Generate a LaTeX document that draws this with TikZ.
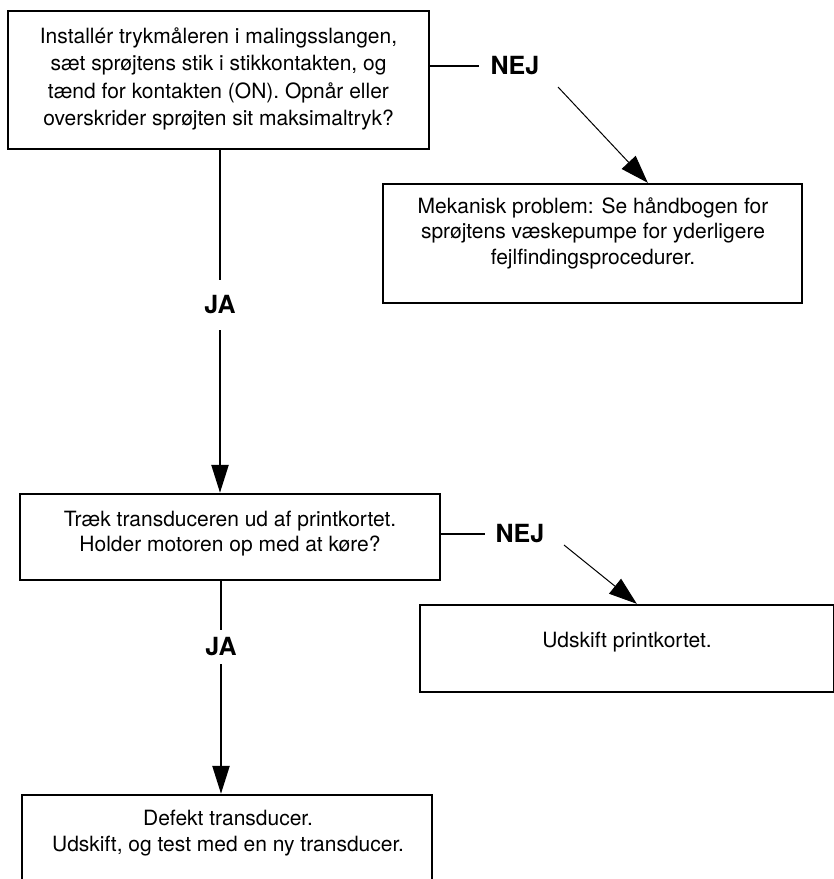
\documentclass[tikz,border=0pt]{standalone}
\usepackage{fontspec}
\setmainfont{TeX Gyre Heros}
\usetikzlibrary{arrows.meta}
\tikzset{
  box/.style={draw, line width=2.4pt, inner sep=0pt, rectangle},
  txt/.style={align=center, inner sep=0pt, font=\fontsize{21}{25.5}\selectfont},
  lbl/.style={inner xsep=10pt, font=\fontsize{25}{30}\selectfont\bfseries},
  conn/.style={line width=2.4pt},
  bigarrow/.style={line width=2.4pt, -{Triangle[length=28pt,width=17pt]}},
  thinarrow/.style={line width=1pt, -{Triangle[length=28pt,width=19pt]}}
}
\begin{document}
\begin{tikzpicture}[x=1pt,y=-1pt]
\useasboundingbox (0,0) rectangle (834,879);
% boxes
\node[box, minimum width=421pt, minimum height=138pt] (b1) at (218.5,80) {};
\node[box, minimum width=419pt, minimum height=119pt] (b2) at (592.5,243.5) {};
\node[box, minimum width=420pt, minimum height=86pt] (b3) at (230,537) {};
\node[box, minimum width=414pt, minimum height=87pt] (b4) at (627,648.5) {};
\node[box, minimum width=410pt, minimum height=110pt] (b5) at (227,850) {};
% texts
\node[txt, font=\fontsize{21}{27.5}\selectfont] (t1) at (218.5,79) {Installér trykmåleren i malingsslangen,\\sæt sprøjtens stik i stikkontakten, og\\tænd for kontakten (ON). Opnår eller\\overskrider sprøjten sit maksimaltryk?};
\node[txt] (t2) at (593,233) {Mekanisk problem: Se håndbogen for\\sprøjtens væskepumpe for yderligere\\fejlfindingsprocedurer.};
\node[txt] (t3) at (230,533.5) {Træk transduceren ud af printkortet.\\Holder motoren op med at køre?};
\node[txt] (t4) at (627,642) {Udskift printkortet.};
\node[txt] (t5) at (228,833) {Defekt transducer.\\Udskift, og test med en ny transducer.};
% labels
\node[lbl, inner ysep=16pt] (ja1) at (220,305) {JA};
\node[lbl, inner ysep=8pt] (ja2) at (221,647) {JA};
\node[lbl, inner xsep=11pt] (nej1) at (515,66) {NEJ};
\node[lbl, inner xsep=10pt] (nej2) at (520,534) {NEJ};
\coordinate (n1s) at (558,87);
\coordinate (n2s) at (564,545);
% connectors
\draw[conn] (ja1 |- b1.south) -- (ja1.north);
\draw[bigarrow] (ja1.south) -- (ja1 |- b3.north);
\draw[conn] (b1.east |- nej1) -- (nej1.west);
\draw[thinarrow] (n1s) -- ([xshift=266pt]b2.north west);
\draw[conn] (ja2 |- b3.south) -- (ja2.north);
\draw[bigarrow] (ja2.south) -- (ja2 |- b5.north);
\draw[conn] (b3.east |- nej2) -- (nej2.west);
\draw[thinarrow] (n2s) -- ([xshift=218pt]b4.north west);
\end{tikzpicture}
\end{document}
